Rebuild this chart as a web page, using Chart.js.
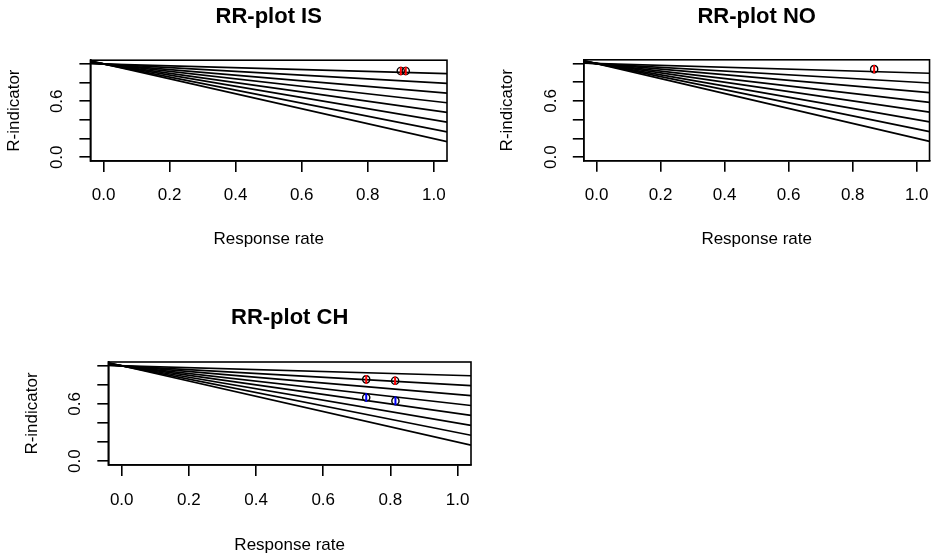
<!DOCTYPE html>
<html><head><meta charset="utf-8">
<script src="https://cdn.jsdelivr.net/npm/chart.js@4.4.1/dist/chart.umd.min.js"></script>
<style>
html,body{margin:0;padding:0;background:#fff;width:942px;height:556px;overflow:hidden;}
.p{position:absolute;}
canvas{display:block;}
</style></head><body>
<div class="p" style="left:0px;top:0px"><canvas id="c1" width="471" height="278"></canvas></div>
<div class="p" style="left:471px;top:0px"><canvas id="c2" width="471" height="278"></canvas></div>
<div class="p" style="left:0px;top:278px"><canvas id="c3" width="490" height="278"></canvas></div>
<script>
// ---- data ----
const xTicks = [0, 0.2, 0.4, 0.6, 0.8, 1.0];
const xTickLabels = ['0.0', '0.2', '0.4', '0.6', '0.8', '1.0'];
const yTicks = [0, 0.2, 0.4, 0.6, 0.8, 1.0];
const yTickLabels = ['0.0', '', '', '0.6', '', ''];
const axisRange = [-0.04, 1.04];

// RR contour lines: R-indicator at the left and right ends of the plot range
const lineRho = [-0.04, 1.04];
const lineStartR = [1.004, 1.008, 1.012, 1.016, 1.020, 1.024, 1.028, 1.032];
const lineEndR = [0.896, 0.792, 0.688, 0.584, 0.480, 0.376, 0.272, 0.168];

const isRate = [0.900, 0.915];
const isR = [0.925, 0.925];
const isErr = [0.045, 0.045];
const isColor = ['#ff0000', '#ff0000'];

const noRate = [0.867];
const noR = [0.94];
const noErr = [0.045];
const noColor = ['#ff0000'];

const chRate = [0.728, 0.814, 0.728, 0.815];
const chR = [0.858, 0.844, 0.667, 0.632];
const chErr = [0.045, 0.045, 0.045, 0.045];
const chColor = ['#ff0000', '#ff0000', '#0000ff', '#0000ff'];

// ---- layout ----
const FONT = "'Liberation Sans', Arial, sans-serif";
const AXW = 1.6;
const boxPlugin = {
  id: 'box',
  afterDraw(chart) {
    const a = chart.chartArea, c = chart.ctx;
    c.save();
    c.strokeStyle = '#000';
    c.lineWidth = AXW;
    c.strokeRect(a.left, a.top, a.right - a.left, a.bottom - a.top);
    c.restore();
  }
};

function makePanel(id, title, rates, rs, errs, colors, g) {
  const datasets = [];
  for (let i = 0; i < lineEndR.length; i++) {
    datasets.push({
      data: [{x: lineRho[0], y: lineStartR[i]}, {x: lineRho[1], y: lineEndR[i]}],
      showLine: true, borderColor: '#000', borderWidth: 1.7, pointRadius: 0, clip: 0, order: 3
    });
  }
  datasets.push({
    data: rates.map((r, i) => ({x: r, y: rs[i]})),
    showLine: false, pointStyle: 'circle', pointRadius: 3.6, pointBorderWidth: 1.4,
    pointBorderColor: '#000', pointBackgroundColor: 'rgba(255,255,255,0)', order: 2
  });
  for (let i = 0; i < rates.length; i++) {
    datasets.push({
      data: [{x: rates[i], y: rs[i] - errs[i]}, {x: rates[i], y: rs[i] + errs[i]}],
      showLine: true, borderColor: colors[i], borderWidth: 2, pointRadius: 0, order: 1
    });
  }
  const tickFont = {family: FONT, size: 17, lineHeight: 1.2};
  new Chart(document.getElementById(id), {
    type: 'scatter',
    data: {datasets},
    options: {
      responsive: false, animation: false, devicePixelRatio: 1,
      layout: {padding: {left: 0, top: 0, right: g.w - g.right, bottom: 0}},
      plugins: {
        legend: {display: false}, tooltip: {enabled: false},
        title: {display: true, text: title, fullSize: false, color: '#000',
          font: {family: FONT, size: 22, weight: 'bold', lineHeight: 1.2},
          padding: {top: g.titleTop, bottom: g.top - g.titleTop - 26.4}}
      },
      scales: {
        x: {
          type: 'linear', position: 'bottom', min: axisRange[0], max: axisRange[1],
          afterBuildTicks: s => { s.ticks = xTicks.map(v => ({value: v})); },
          afterFit: s => { s.height = g.h - g.bottom; },
          ticks: {callback: (v, i) => xTickLabels[i], font: tickFont, color: '#000',
            padding: g.xTickPad, minRotation: 0, maxRotation: 0, autoSkip: false},
          grid: {drawOnChartArea: false, drawTicks: true, tickLength: 11, color: '#000', lineWidth: AXW},
          border: {display: true, color: '#000', width: AXW},
          title: {display: true, text: 'Response rate', color: '#000', font: tickFont,
            padding: {top: 0, bottom: g.xTitlePad}}
        },
        y: {
          type: 'linear', position: 'left', min: axisRange[0], max: axisRange[1],
          afterBuildTicks: s => { s.ticks = yTicks.map(v => ({value: v})); },
          afterFit: s => { s.width = g.left; },
          ticks: {callback: (v, i) => yTickLabels[i], font: tickFont, color: '#000',
            padding: g.yTickPad, minRotation: 90, maxRotation: 90, crossAlign: 'center', autoSkip: false},
          grid: {drawOnChartArea: false, drawTicks: true, tickLength: 11, color: '#000', lineWidth: AXW},
          border: {display: true, color: '#000', width: AXW},
          title: {display: true, text: 'R-indicator', color: '#000', font: tickFont,
            padding: {top: g.yTitlePad, bottom: 0}}
        }
      }
    },
    plugins: [boxPlugin]
  });
}

makePanel('c1', 'RR-plot IS', isRate, isR, isErr, isColor,
  {w: 471, h: 278, left: 90.4, top: 60.2, right: 447, bottom: 161,
   titleTop: 3.5, xTickPad: 12.8, yTickPad: 10.3, yTitlePad: 4.2, xTitlePad: 28.5});
makePanel('c2', 'RR-plot NO', noRate, noR, noErr, noColor,
  {w: 471, h: 278, left: 112.8, top: 59.8, right: 470.6, bottom: 160.8,
   titleTop: 3.5, xTickPad: 13, yTickPad: 9.3, yTitlePad: 26.6, xTitlePad: 28.5});
makePanel('c3', 'RR-plot CH', chRate, chR, chErr, chColor,
  {w: 490, h: 278, left: 108.3, top: 84, right: 471, bottom: 187,
   titleTop: 27.1, xTickPad: 13.8, yTickPad: 10.5, yTitlePad: 22.3, xTitlePad: 0.8});
</script>
</body></html>
